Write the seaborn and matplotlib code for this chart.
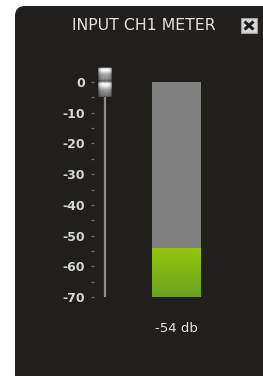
import numpy as np
import matplotlib
matplotlib.use("Agg")
import matplotlib.pyplot as plt
import seaborn as sns
from matplotlib.patches import FancyBboxPatch, Rectangle
from matplotlib.colors import LinearSegmentedColormap

# =========================
# Data
# =========================
title = "INPUT CH1 METER"
channel = ["CH1"]
scale_ticks = [0, -10, -20, -30, -40, -50, -60, -70]
scale_labels = ["0", "-10", "-20", "-30", "-40", "-50", "-60", "-70"]
minor_ticks = [-5, -15, -25, -35, -45, -55, -65]
meter_floor = -70
level_db = -54
fader_db = 0

# =========================
# Figure / panel
# =========================
W, H = 263, 376
sns.set_theme(style="dark")
plt.rcParams["font.family"] = ["DejaVu Sans"]

fig = plt.figure(figsize=(W / 100, H / 100), dpi=100, facecolor="white")

# background axes in pixel units
bg = fig.add_axes([0, 0, 1, 1])
bg.set_xlim(0, W)
bg.set_ylim(H, 0)
bg.axis("off")
bg.add_patch(FancyBboxPatch((15, 6), 300, 420, boxstyle="round,pad=0,rounding_size=10",
                            fc="#201f1c", ec="none"))
bg.text(144, 25.5, title, color="#e2e2e2", fontsize=11.3, ha="center", va="center")

# close box
bg.add_patch(Rectangle((241, 18), 16, 15, fc="#d8d8d8", ec="#9a9a9a", lw=0.8))
bg.plot([244.5, 253.5], [21.5, 29.5], color="#1e1e1e", lw=2.2, solid_capstyle="butt")
bg.plot([244.5, 253.5], [29.5, 21.5], color="#1e1e1e", lw=2.2, solid_capstyle="butt")

bg.text(176, 329, f"{level_db} db", color="#e6e6e6", fontsize=9.5, ha="center", va="center")

# =========================
# Meter axes
# =========================
ax_l, ax_r, ax_t, ax_b = 94, 259, 60, 310
y0_px, y70_px = 82, 297
s = (0 - meter_floor) / (y70_px - y0_px)
ax = fig.add_axes([ax_l / W, 1 - ax_b / H, (ax_r - ax_l) / W, (ax_b - ax_t) / H])
ax.set_facecolor("none")

bar_px_c, bar_px_w = 176.5, 49
sns.barplot(x=channel, y=[meter_floor], width=1, color="#7fb516", saturation=1,
            ax=ax, zorder=1, linewidth=0, edgecolor="none")
sns.barplot(x=channel, y=[level_db], width=1, color="#808080", saturation=1,
            ax=ax, zorder=3, linewidth=0, edgecolor="none")

# green gradient on the active part
gp = ax.patches[0]
grad = np.linspace(0, 1, 64).reshape(-1, 1)
gcm = LinearSegmentedColormap.from_list("lvl", ["#96c40c", "#6aa51f"])
ax.imshow(grad, cmap=gcm, aspect="auto", zorder=2,
          extent=(gp.get_x(), gp.get_x() + gp.get_width(), meter_floor, level_db))

# fader
fader_x = (105 - bar_px_c) / bar_px_w
ax.plot([fader_x, fader_x], [meter_floor, fader_db], color="#8c8c8c", lw=1.6, zorder=4,
        solid_capstyle="butt")
prof = np.array([0.35, 0.85, 0.97, 0.97, 0.9, 0.8, 0.72, 0.66, 0.62, 0.6, 0.58, 0.55,
                 0.5, 0.4, 0.5, 0.75, 0.95, 0.97, 0.95, 0.88, 0.8, 0.72, 0.65, 0.6,
                 0.56, 0.53, 0.5, 0.48, 0.45, 0.35])
knob = np.tile(prof.reshape(-1, 1), (1, 12))
shade = np.array([0.55, 0.8, 0.92, 1, 1, 1, 1, 1, 1, 0.95, 0.85, 0.6])
knob = knob * shade
kw, kh = 14 / bar_px_w, 15 * s
ax.imshow(knob, cmap="gray", vmin=0, vmax=1, aspect="auto", zorder=5,
          extent=(fader_x - kw / 2, fader_x + kw / 2, fader_db - kh, fader_db + kh))

# limits / ticks
ax.set_xlim((ax_l - bar_px_c) / bar_px_w, (ax_r - bar_px_c) / bar_px_w)
ax.set_ylim(meter_floor - (ax_b - y70_px) * s, (y0_px - ax_t) * s)
ax.set_yticks(scale_ticks, scale_labels)
ax.set_yticks(minor_ticks, minor=True)
ax.set_xticks([])
ax.set_xlabel("")
ax.set_ylabel("")
ax.tick_params(axis="y", which="both", left=True, direction="out", length=2.2, width=0.9,
               color="#6a6a6a", labelcolor="#d6d6d6", labelsize=9, pad=4.5)
for lab in ax.get_yticklabels():
    lab.set_fontweight("bold")
for sp in ax.spines.values():
    sp.set_visible(False)
ax.grid(False)

fig.savefig("out.png", dpi=100, facecolor="white")
